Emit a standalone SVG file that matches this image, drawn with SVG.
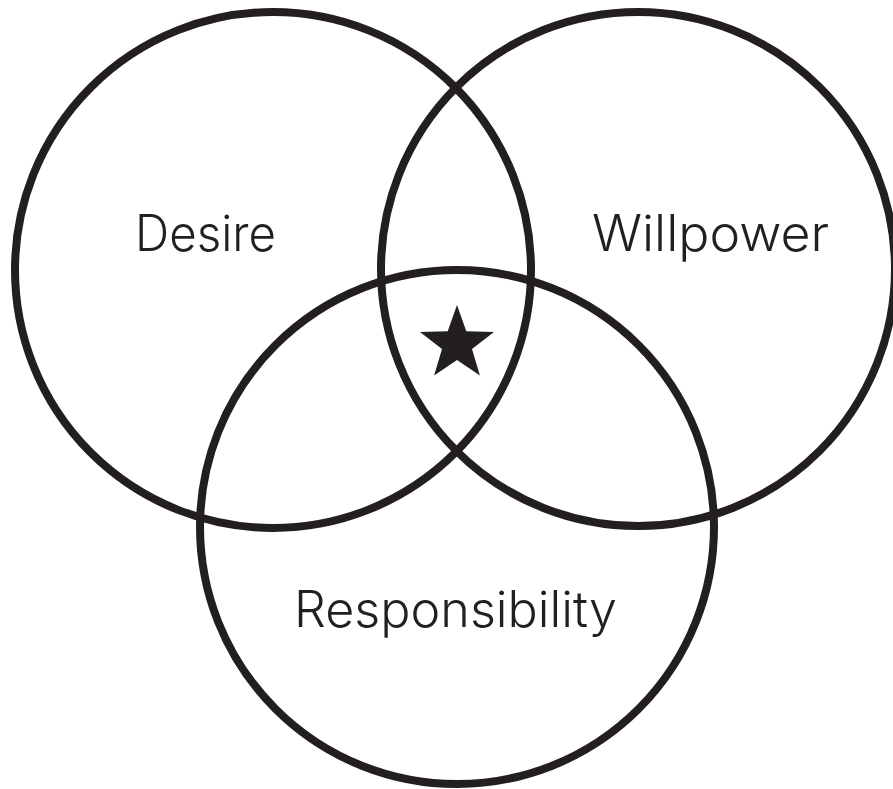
<svg xmlns="http://www.w3.org/2000/svg" width="893" height="789" viewBox="0 0 893 789">
<style>
.c{fill:none;stroke:#231f20;stroke-width:8}
.t{font-family:Inter,"Liberation Sans",Arial,sans-serif;font-weight:300;font-size:50px;fill:#231f20}
</style>
<rect width="893" height="789" fill="#ffffff"/>
<g id="desire"><circle class="c" cx="273" cy="270" r="258"/><text class="t" x="135" y="251" textLength="141" lengthAdjust="spacingAndGlyphs">Desire</text></g>
<g id="willpower"><circle class="c" cx="638" cy="269" r="257"/><text class="t" x="592" y="251" textLength="237" lengthAdjust="spacingAndGlyphs">Willpower</text></g>
<g id="responsibility"><circle class="c" cx="457" cy="527" r="257"/><text class="t" x="294" y="627" textLength="323" lengthAdjust="spacingAndGlyphs">Responsibility</text></g>
<g id="star"><polygon fill="#231f20" points="457,305 466.3,331.2 494,332 472,348.9 479.9,375.5 457,360 434.1,375.5 442,348.9 420,332 447.7,331.2"/></g>
<g id="connectors"></g>
</svg>
